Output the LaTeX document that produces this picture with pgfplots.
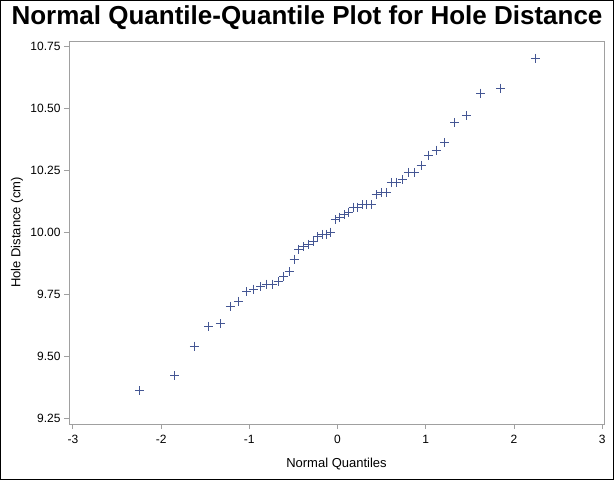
\documentclass[border=0pt]{standalone}
\usepackage{fontspec}
\setmainfont{Liberation Sans}
\usepackage{pgfplots}
\pgfplotsset{compat=1.18}
\definecolor{sasblue}{HTML}{445694}
\definecolor{framegray}{HTML}{A0A0A0}

\begin{document}
\begin{tikzpicture}
\begin{axis}[
  scale only axis,
  width=535pt, height=383pt,
  xmin=-3.044, xmax=3.02,
  ymin=9.226, ymax=10.770,
  xtick={-3,-2,-1,0,1,2,3},
  ytick={9.25,9.50,9.75,10.00,10.25,10.50,10.75},
  /pgf/number format/assume math mode=true,
  yticklabel style={/pgf/number format/.cd, fixed, fixed zerofill, precision=2},
  ticklabel style={font=\fontsize{12}{14}\selectfont, text=black},
  xticklabel style={yshift=-3pt},
  tick pos=left,
  tick align=outside,
  major tick length=5pt,
  tick style={framegray, line width=0.8pt},
  axis line style={framegray, line width=0.8pt},
  xlabel={Normal Quantiles},
  ylabel={Hole Distance (cm)},
  label style={font=\fontsize{13}{15}\selectfont},
  xlabel style={at={(axis description cs:0.5,-0.1044)}, anchor=center},
  ylabel style={at={(axis description cs:-0.0972,0.5)}, anchor=center},
  clip=false,
]
\coordinate (sw) at (rel axis cs:0,0);
\coordinate (ne) at (rel axis cs:1,1);
\addplot[only marks, mark=+, mark size=4.5pt, color=sasblue, line width=1pt] coordinates {
  (-2.2433, 9.36) (-1.8477, 9.42) (-1.6235, 9.54) (-1.4606, 9.62) (-1.3283, 9.63)
  (-1.2163, 9.70) (-1.1178, 9.72) (-1.0290, 9.76) (-0.9477, 9.77) (-0.8722, 9.78)
  (-0.8015, 9.79) (-0.7344, 9.79) (-0.6706, 9.80) (-0.6094, 9.82) (-0.5504, 9.84)
  (-0.4932, 9.89) (-0.4376, 9.93) (-0.3833, 9.94) (-0.3301, 9.95) (-0.2780, 9.96)
  (-0.2264, 9.98) (-0.1762, 9.99) (-0.1256, 9.99) (-0.0749, 10.00) (-0.0249, 10.05)
  (0.0249, 10.06) (0.0749, 10.07) (0.1256, 10.08) (0.1762, 10.10) (0.2264, 10.10)
  (0.2780, 10.11) (0.3301, 10.11) (0.3833, 10.11) (0.4376, 10.15) (0.4932, 10.16)
  (0.5504, 10.16) (0.6094, 10.20) (0.6706, 10.20) (0.7344, 10.21) (0.8015, 10.24)
  (0.8722, 10.24) (0.9477, 10.27) (1.0290, 10.31) (1.1178, 10.33) (1.2163, 10.36)
  (1.3283, 10.44) (1.4606, 10.47) (1.6235, 10.56) (1.8477, 10.58) (2.2433, 10.70)
};
\end{axis}
\draw[black, line width=1.2pt] ([shift={(-68.4pt,-55.4pt)}]sw) rectangle ([shift={(9.4pt,40.4pt)}]ne);
\node[font=\bfseries\fontsize{26}{30}\selectfont, anchor=center] at ([shift={(238pt,406pt)}]sw) {Normal Quantile-Quantile Plot for Hole Distance};
\end{tikzpicture}
\end{document}
